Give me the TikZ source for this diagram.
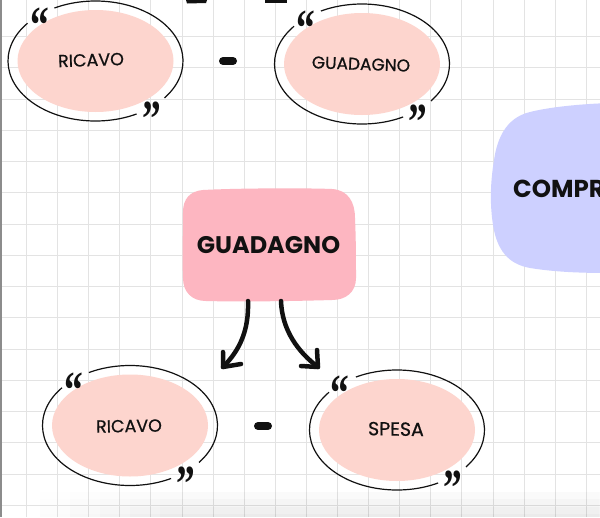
\documentclass[tikz,border=0pt]{standalone}
\usepackage{graphicx}
\usepackage{fontspec}
\setmainfont{Poppins}
\newfontfamily\quotefont{Liberation Serif}
\newfontfamily\ovalfont[FakeBold=0.7]{Poppins}
\usetikzlibrary{fadings,shapes.geometric}
\definecolor{gridc}{HTML}{E3E3E3}
\definecolor{peach}{HTML}{FDD5CE}
\definecolor{rosebox}{HTML}{FDB6C1}
\definecolor{lilac}{HTML}{CDD0FF}
\definecolor{inkc}{HTML}{111111}
\newcommand{\lquo}{\scalebox{.72}[1]{\raisebox{-22pt}[13pt][0pt]{“}}}
\newcommand{\rquo}{\scalebox{.72}[1]{\raisebox{-22pt}[13pt][0pt]{”}}}
\tikzset{
  oval/.style={ellipse,fill=peach,minimum width=156pt,minimum height=102pt,inner sep=0pt},
  ovaltext/.style={font=\ovalfont\fontsize{17.5}{17.5}\selectfont,text=inkc},
  bigtext/.style={font=\bfseries\fontsize{24}{24}\selectfont,text=inkc},
  rim/.style={draw=inkc,line width=1.2pt},
  qmark/.style={font=\quotefont\bfseries\fontsize{52}{52}\selectfont,text=inkc,inner sep=0pt},
  minusbar/.style={draw=inkc,line width=8pt,line cap=round},
  curveline/.style={draw=inkc,line width=4.5pt,line cap=round,line join=round},
}
\begin{document}
\begin{tikzpicture}[x=1pt,y=-1pt]
\useasboundingbox (0,0) rectangle (600,517);
\clip (0,0) rectangle (600,517);
\fill[white] (0,0) rectangle (600,517);
% grid
\foreach \k in {0,...,18} \draw[gridc,line width=1pt] ({round(26+31.1*\k)},0) -- ({round(26+31.1*\k)},517);
\foreach \k in {0,...,15} \draw[gridc,line width=1pt] (0,{round(36+31.25*\k)}) -- (600,{round(36+31.25*\k)});
\fill[black!45] (0,0) rectangle (2,517);
\foreach \s in {40,70,100,130,160} \fill[black,path fading=north,opacity=0.016] (\s,488) rectangle (600,517);
% cropped marks at top edge
\fill[inkc] (186,0) -- (207,0) -- (206,3) -- (187,3.5) -- cycle;
\fill[inkc] (265,0) rectangle (287,3);
% ovals
\node[oval] (a) at (95.5,61) {};
\node[oval] (b) at (362,64) {};
\node[oval] (c) at (130,425.5) {};
\node[oval] (d) at (397,430) {};
\foreach \n in {a,b,c,d}{
  \draw[rim] (\n) ++(141:87.5 and -60) arc[start angle=141,end angle=298,x radius=87.5,y radius=-60];
  \draw[rim] (\n) ++(-38:87.5 and -60) arc[start angle=-38,end angle=118,x radius=87.5,y radius=-60];
}
\node[ovaltext,rotate=2] (ta) at (91,60) {RICAVO};
\node[ovaltext,rotate=-2,font=\ovalfont\fontsize{17}{17}\selectfont] (tb) at (361,64) {GUADAGNO};
\node[ovaltext,rotate=1] (tc) at (129,426) {RICAVO};
\node[ovaltext,rotate=-1,font=\ovalfont\fontsize{19}{19}\selectfont] (td) at (396,429) {SPESA};
% quote marks
\foreach \n/\lx/\ly/\rx/\ry in {qa/39.5/14/152/108,qb/306/17/418/111,qc/73.5/379/186/473,qd/340/382/452.5/477}{
  \node[qmark] (\n l) at (\lx,\ly) {\lquo};
  \node[qmark] (\n r) at (\rx,\ry) {\rquo};
}
% minus signs
\coordinate (m1a) at (223,61); \coordinate (m1b) at (233,61);
\coordinate (m2a) at (258,426); \coordinate (m2b) at (268,426);
\draw[minusbar] (m1a) -- (m1b);
\draw[minusbar] (m2a) -- (m2b);
% central box
\fill[rosebox] (203,190) .. controls (240,188) and (310,188) .. (332,189)
  .. controls (348,190) and (355,202) .. (355,218)
  .. controls (356,240) and (356,260) .. (356,278)
  .. controls (356,292) and (346,300) .. (332,300)
  .. controls (300,301) and (240,302) .. (206,301)
  .. controls (192,301) and (183,292) .. (183,278)
  .. controls (182,255) and (183,235) .. (183,212)
  .. controls (183,199) and (190,191) .. (203,190) -- cycle;
\node[bigtext] (g) at (268.5,245) {GUADAGNO};
% blue box
\fill[lilac] (610,103) .. controls (580,104) and (550,107) .. (530,112)
  .. controls (505,118) and (497,140) .. (494,160)
  .. controls (490,185) and (490,205) .. (493,225)
  .. controls (497,250) and (508,264) .. (530,268)
  .. controls (555,272) and (580,273) .. (610,273) -- cycle;
\node[bigtext,anchor=west,inner sep=0pt,font=\bfseries\fontsize{24.5}{24.5}\selectfont] (comp) at (513,189) {COMPR};
% connectors
\coordinate (gl) at (248,301); \coordinate (gr) at (281,301);
\coordinate (el) at (223,367); \coordinate (er) at (318,367);
\coordinate (hl1) at (223,352); \coordinate (hl2) at (241,364);
\coordinate (hr1) at (317,350); \coordinate (hr2) at (301,366);
\draw[curveline] (gl) .. controls (249,330) and (240,350) .. (el);
\draw[curveline] (hl1) -- (el) -- (hl2);
\draw[curveline] (gr) .. controls (282,330) and (298,352) .. (er);
\draw[curveline] (hr1) -- (er) -- (hr2);
\end{tikzpicture}
\end{document}
